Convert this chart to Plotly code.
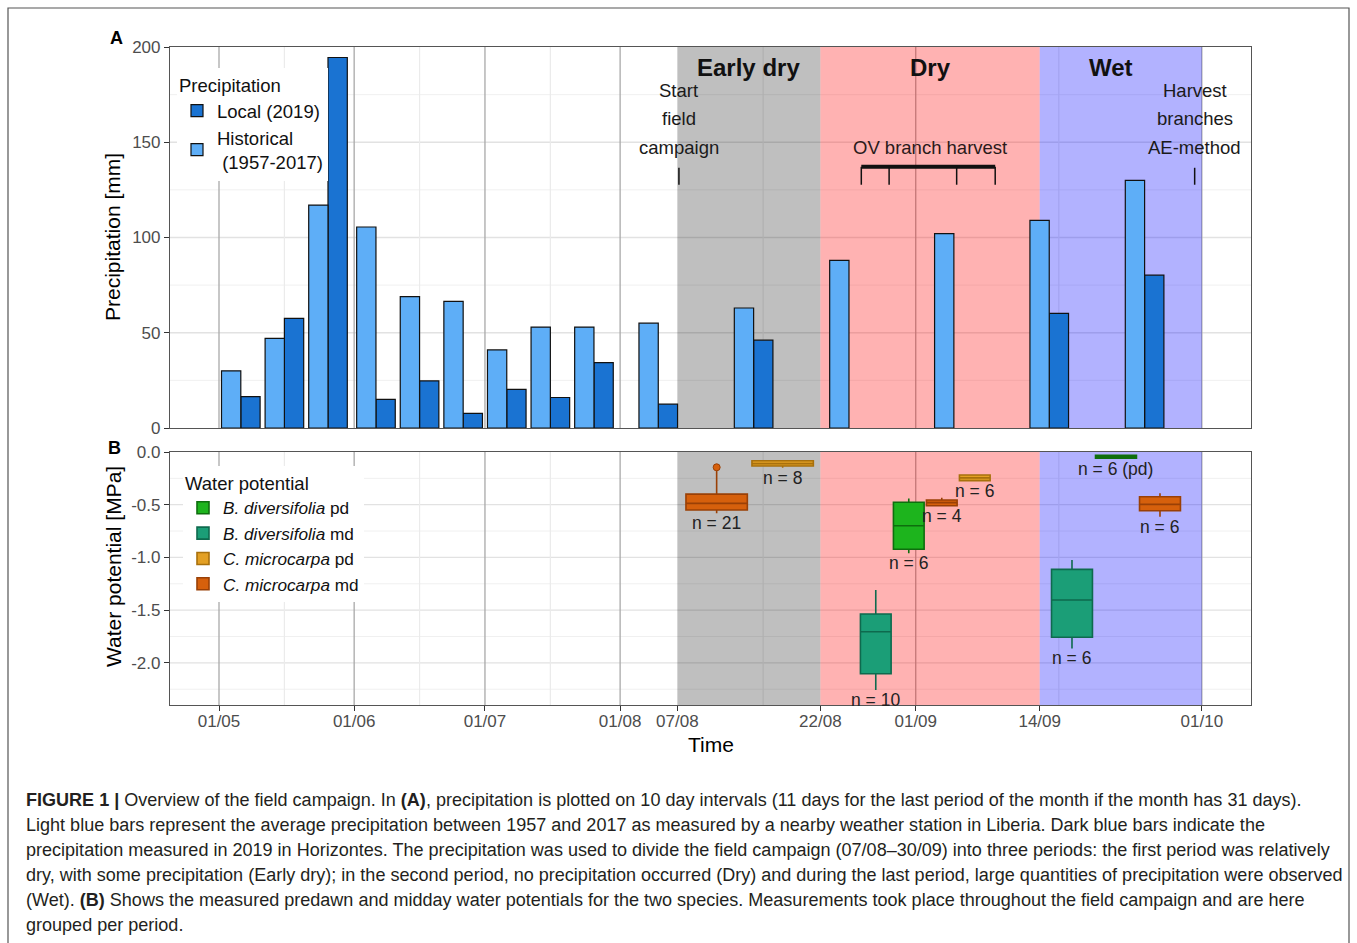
import datetime as dt
import pandas as pd
import plotly.graph_objects as go

# ---------------- data ----------------
bar_dates = ["2019-05-06", "2019-05-16", "2019-05-26", "2019-06-06", "2019-06-16", "2019-06-26",
             "2019-07-06", "2019-07-16", "2019-07-26", "2019-08-05", "2019-08-15", "2019-08-25",
             "2019-09-05", "2019-09-15", "2019-09-25"]
precip_historical = [30, 47, 117, 105.5, 69, 66.5, 41, 53, 53, 55, 63, 88, 102, 109, 130]
precip_local = [16.5, 57.5, 194.5, 15, 24.7, 7.7, 20.3, 16, 34.3, 12.5, 46.1, None, None, 60.2, 80.2]

period_names = ["Early dry", "Dry", "Wet"]
period_start = ["2019-08-07", "2019-08-22", "2019-09-14"]
period_end = ["2019-08-22", "2019-09-14", "2019-10-01"]
period_label_dates = ["2019-08-14 12:00", "2019-09-02 12:00", "2019-09-21 12:00"]
period_box_dates = ["2019-08-14 14:00", "2019-09-02", "2019-09-22"]

series_names = ["B. diversifolia pd", "B. diversifolia md", "C. microcarpa pd", "C. microcarpa md"]
series_legend = ["<i>B. diversifolia</i> pd", "<i>B. diversifolia</i> md",
                 "<i>C. microcarpa</i> pd", "<i>C. microcarpa</i> md"]

wp_period = ["Early dry", "Early dry", "Dry", "Dry", "Dry", "Dry", "Wet", "Wet", "Wet"]
wp_series = ["C. microcarpa md", "C. microcarpa pd",
             "B. diversifolia md", "B. diversifolia pd", "C. microcarpa md", "C. microcarpa pd",
             "B. diversifolia md", "B. diversifolia pd", "C. microcarpa md"]
wp_lower = [-0.58, -0.15, -2.258, -0.96, -0.51, -0.272, -1.863, -0.062, -0.614]
wp_q1 = [-0.55, -0.133, -2.103, -0.923, -0.51, -0.272, -1.758, -0.058, -0.557]
wp_median = [-0.487, -0.11, -1.705, -0.699, -0.48, -0.245, -1.404, -0.045, -0.497]
wp_q3 = [-0.40, -0.083, -1.537, -0.477, -0.455, -0.218, -1.113, -0.032, -0.424]
wp_upper = [-0.16, -0.075, -1.309, -0.44, -0.433, -0.218, -1.025, -0.03, -0.392]
wp_outlier = [-0.145, None, None, None, None, None, None, None, None]
wp_labels = ["n = 21", "n = 8", "n = 10", "n = 6", "n = 4", "n = 6", "n = 6", "n = 6 (pd)", "n = 6"]

start_label = ["Start", "field", "campaign"]
start_date = "2019-08-07 04:00"
harvest_label = ["Harvest", "branches", "AE-method"]
harvest_date = "2019-09-30 06:00"
ov_label = "OV branch harvest"
ov_dates = ["2019-08-26 07:00", "2019-08-29 05:00", "2019-09-05 07:00", "2019-09-09 08:00"]

tick_dates = ["2019-05-01", "2019-06-01", "2019-07-01", "2019-08-01", "2019-08-07",
              "2019-08-22", "2019-09-01", "2019-09-14", "2019-10-01"]
tick_labels = ["01/05", "01/06", "01/07", "01/08", "07/08", "22/08", "01/09", "14/09", "01/10"]
month_lines = ["2019-05-01", "2019-06-01", "2019-07-01", "2019-08-01", "2019-09-01", "2019-10-01"]
mid_lines = ["2019-05-16", "2019-06-16", "2019-07-16", "2019-08-16", "2019-09-16"]

precip_ticks = [0, 50, 100, 150, 200]
precip_minor = [25, 75, 125, 175]
wp_ticks = [0, -0.5, -1, -1.5, -2]
wp_ticktext = ["0.0", "-0.5", "-1.0", "-1.5", "-2.0"]
wp_minor = [-0.25, -0.75, -1.25, -1.75, -2.25]

caption_lines = [
    "<b>FIGURE 1 |</b> Overview of the field campaign. In <b>(A)</b>, precipitation is plotted on 10 day intervals (11 days for the last period of the month if the month has 31 days).",
    "Light blue bars represent the average precipitation between 1957 and 2017 as measured by a nearby weather station in Liberia. Dark blue bars indicate the",
    "precipitation measured in 2019 in Horizontes. The precipitation was used to divide the field campaign (07/08\u201330/09) into three periods: the first period was relatively",
    "dry, with some precipitation (Early dry); in the second period, no precipitation occurred (Dry) and during the last period, large quantities of precipitation were observed",
    "(Wet). <b>(B)</b> Shows the measured predawn and midday water potentials for the two species. Measurements took place throughout the field campaign and are here",
    "grouped per period.",
]

# ---------------- scale: two-speed time axis ----------------
D0 = dt.datetime(2019, 5, 1)
DB = dt.datetime(2019, 8, 1)
LEFT_PX_PER_DAY = 4.36
RIGHT_PX_PER_DAY = 9.536


def xu(s):
    d = pd.Timestamp(s).to_pydatetime()
    if d <= DB:
        return (d - D0).total_seconds() / 86400 * LEFT_PX_PER_DAY
    return (DB - D0).days * LEFT_PX_PER_DAY + (d - DB).total_seconds() / 86400 * RIGHT_PX_PER_DAY


XRANGE = [-49, 1032]
BAR_W = 19.3
DODGE_W = 132

colors = {
    "B. diversifolia pd": ("#1DB41D", "#0E6E0E"),
    "B. diversifolia md": ("#1B9E77", "#0E6A4E"),
    "C. microcarpa pd": ("#E3A024", "#A8700C"),
    "C. microcarpa md": ("#D6600C", "#9A4006"),
}

FONT = "Liberation Sans, Arial, sans-serif"
fig = go.Figure()

# ---------------- panel A bars ----------------
bx = [xu(d) for d in bar_dates]
fig.add_trace(go.Bar(x=bx, y=precip_local, width=BAR_W, offset=0, name="Local (2019)",
                     marker=dict(color="#1A73D2", line=dict(color="#111111", width=1.2)),
                     legend="legend", legendrank=1, xaxis="x", yaxis="y", hoverinfo="skip"))
fig.add_trace(go.Bar(x=bx, y=precip_historical, width=BAR_W, offset=-BAR_W,
                     name="Historical<br> (1957-2017)",
                     marker=dict(color="#5EAEF7", line=dict(color="#111111", width=1.2)),
                     legend="legend", legendrank=2, xaxis="x", yaxis="y", hoverinfo="skip"))

# ---------------- panel B boxes ----------------
annotations = []
shown = set()
for p, c_date in zip(period_names, period_box_dates):
    idx = [i for i, pp in enumerate(wp_period) if pp == p]
    n = len(idx)
    slot = DODGE_W / n
    for k, i in enumerate(idx):
        xpos = xu(c_date) + (k - (n - 1) / 2) * slot
        s = wp_series[i]
        fill, edge = colors[s]
        fig.add_trace(go.Box(
            x=[xpos], q1=[wp_q1[i]], median=[wp_median[i]], q3=[wp_q3[i]],
            lowerfence=[wp_lower[i]], upperfence=[wp_upper[i]],
            width=slot * 0.93, whiskerwidth=0, fillcolor=fill, line=dict(color=edge, width=1.6),
            name=series_legend[series_names.index(s)], legendgroup=s,
            showlegend=s not in shown, legend="legend2",
            legendrank=series_names.index(s) + 1, boxpoints=False,
            hoverinfo="skip", xaxis="x2", yaxis="y2"))
        shown.add(s)
        if wp_outlier[i] is not None:
            fig.add_trace(go.Scatter(x=[xpos], y=[wp_outlier[i]], mode="markers",
                                     marker=dict(size=7, color=fill, line=dict(color=edge, width=1)),
                                     showlegend=False, hoverinfo="skip", xaxis="x2", yaxis="y2"))
        annotations.append(dict(x=xpos, y=wp_lower[i], xref="x2", yref="y2", text=wp_labels[i],
                                showarrow=False, xanchor="center", yanchor="top", yshift=2,
                                font=dict(size=17.5, color="#222222", family=FONT)))

# ---------------- shapes (grid, shading, markers) ----------------
shapes = []
panels = (("x", "y", precip_ticks[1:-1], precip_minor), ("x2", "y2", wp_ticks[1:], wp_minor))
for xr, yr, major, minor in panels:
    for v in minor:
        shapes.append(dict(type="line", xref=f"{xr} domain", yref=yr, x0=0, x1=1, y0=v, y1=v,
                           line=dict(color="#F0F0F0", width=1), layer="below"))
    for v in major:
        shapes.append(dict(type="line", xref=f"{xr} domain", yref=yr, x0=0, x1=1, y0=v, y1=v,
                           line=dict(color="#E2E2E2", width=1.3), layer="below"))
    for d in mid_lines:
        shapes.append(dict(type="line", xref=xr, yref=f"{yr} domain", x0=xu(d), x1=xu(d), y0=0, y1=1,
                           line=dict(color="#EBEBEB", width=1.2), layer="below"))
    for d in month_lines:
        shapes.append(dict(type="line", xref=xr, yref=f"{yr} domain", x0=xu(d), x1=xu(d), y0=0, y1=1,
                           line=dict(color="#A9A9A9", width=1.3), layer="below"))
    for s0, s1, fc in zip(period_start, period_end,
                          ["rgba(0,0,0,0.25)", "rgba(255,0,0,0.30)", "rgba(0,0,255,0.30)"]):
        shapes.append(dict(type="rect", xref=xr, yref=f"{yr} domain", x0=xu(s0), x1=xu(s1), y0=0, y1=1,
                           fillcolor=fc, line=dict(width=0), layer="below"))

# event markers in panel A
for d in [start_date, harvest_date]:
    shapes.append(dict(type="line", xref="x", yref="y", x0=xu(d), x1=xu(d), y0=127.7, y1=136.6,
                       line=dict(color="#111111", width=1.5)))
shapes.append(dict(type="line", xref="x", yref="y", x0=xu(ov_dates[0]), x1=xu(ov_dates[-1]),
                   y0=137.1, y1=137.1, line=dict(color="#111111", width=4)))
for d in ov_dates:
    shapes.append(dict(type="line", xref="x", yref="y", x0=xu(d), x1=xu(d), y0=127.7, y1=137.1,
                       line=dict(color="#111111", width=1.5)))

# outer frame of the figure
W, H = 1357, 943
L, R, T, B = 170, 1251, 47, 705


def px(xp):
    return (xp - L) / (R - L)


def py(yp):
    return (B - yp) / (B - T)


shapes.append(dict(type="rect", xref="paper", yref="paper", x0=px(8), x1=px(1349), y0=py(960), y1=py(8),
                   line=dict(color="#555555", width=1.2), fillcolor="rgba(0,0,0,0)"))

# ---------------- annotations ----------------
for name, d in zip(period_names, period_label_dates):
    annotations.append(dict(x=xu(d), y=189, xref="x", yref="y", text=f"<b>{name}</b>", showarrow=False,
                            xanchor="center", yanchor="middle",
                            font=dict(size=24, color="#111111", family=FONT)))
for lines, d in ((start_label, start_date), (harvest_label, harvest_date)):
    for k, t in enumerate(lines):
        annotations.append(dict(x=xu(d), y=[177.0, 162.3, 147.1][k], xref="x", yref="y", text=t,
                                showarrow=False, xanchor="center", yanchor="middle",
                                font=dict(size=18.5, color="#1a1a1a", family=FONT)))
annotations.append(dict(x=xu(period_label_dates[1]), y=147.1, xref="x", yref="y", text=ov_label,
                        showarrow=False, xanchor="center", yanchor="middle",
                        font=dict(size=18.5, color="#2a1a1a", family=FONT)))


def paper_text(xp, yp, text, size, angle=0, bold=False):
    annotations.append(dict(x=px(xp), y=py(yp), xref="paper", yref="paper",
                            text=f"<b>{text}</b>" if bold else text, textangle=angle,
                            showarrow=False, xanchor="center", yanchor="middle",
                            font=dict(size=size, color="black", family=FONT)))


paper_text(116, 38, "A", 18, bold=True)
paper_text(114, 448, "B", 18, bold=True)
paper_text(113, 237, "Precipitation [mm]", 21, angle=-90)
paper_text(113, 567, "Water potential [MPa]", 21, angle=-90)
paper_text(711, 744, "Time", 21)

for k, t in enumerate(caption_lines):
    annotations.append(dict(x=px(24), y=py(800 + 25 * k), xref="paper", yref="paper", text=t,
                            xanchor="left", yanchor="middle", showarrow=False, align="left",
                            font=dict(size=18.05, color="#231F20", family=FONT)))

# ---------------- layout ----------------
yA0 = py(428)
yB1 = py(452)
axis_common = dict(showline=True, mirror=True, linecolor="#555555", linewidth=1.2, zeroline=False,
                   showgrid=False)

fig.update_layout(
    width=W, height=H, margin=dict(l=L, r=W - R, t=T, b=H - B),
    paper_bgcolor="white", plot_bgcolor="white",
    font=dict(family=FONT),
    barmode="overlay", showlegend=True,
    xaxis=dict(domain=[0, 1], range=XRANGE, anchor="y", showticklabels=False, ticks="", **axis_common),
    yaxis=dict(domain=[yA0, 1], range=[0, 200], tickvals=precip_ticks,
               ticks="outside", ticklen=5, tickcolor="#333333",
               tickfont=dict(size=17, color="#4D4D4D"), **axis_common),
    xaxis2=dict(domain=[0, 1], range=XRANGE, anchor="y2", matches="x",
                tickmode="array", tickvals=[xu(d) for d in tick_dates], ticktext=tick_labels,
                ticks="outside", ticklen=5, tickcolor="#333333", ticklabelstandoff=-5,
                tickfont=dict(size=17, color="#4D4D4D"), **axis_common),
    yaxis2=dict(domain=[0, yB1], range=[-2.4, 0], tickvals=wp_ticks, ticktext=wp_ticktext,
                ticks="outside", ticklen=5, tickcolor="#333333",
                tickfont=dict(size=17, color="#4D4D4D"), **axis_common),
    legend=dict(title=dict(text="Precipitation", font=dict(size=18.5, color="#111111")),
                x=px(177), y=py(68), xanchor="left", yanchor="top", bgcolor="white",
                font=dict(size=18.5, color="#111111", family=FONT), tracegroupgap=0),
    legend2=dict(title=dict(text="Water potential", font=dict(size=18.5, color="#111111")),
                 x=px(183), y=py(466), xanchor="left", yanchor="top", bgcolor="white",
                 font=dict(size=17.2, color="#111111", family=FONT), tracegroupgap=0),
    shapes=shapes, annotations=annotations,
)

fig.write_html("out.html", config={"displayModeBar": False},
               post_script="document.body.style.margin='0';document.body.style.padding='0';")
